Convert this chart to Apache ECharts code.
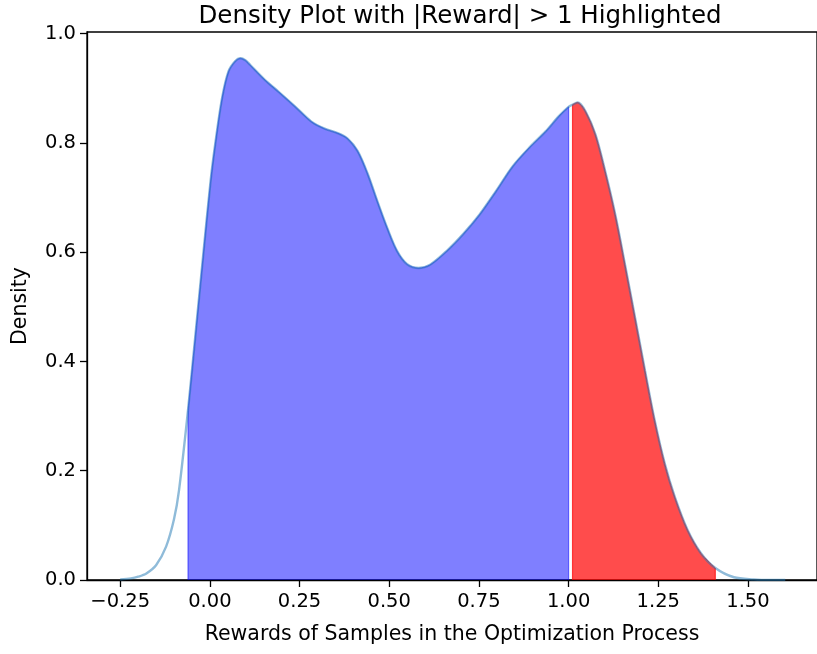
<!DOCTYPE html>
<html>
<head>
<meta charset="utf-8">
<script src="https://cdn.jsdelivr.net/npm/echarts@6/dist/echarts.min.js"></script>
<style>
html,body{margin:0;padding:0;background:#fff;}
#c{width:817px;height:654px;}
</style>
</head>
<body>
<div id="c"></div>
<script>
// Density curve
const kdeX = [-0.25, -0.22, -0.20, -0.177, -0.15, -0.122, -0.10, -0.086, -0.061, -0.04, -0.02, 0.002, 0.016, 0.034, 0.052, 0.071, 0.085, 0.10, 0.112, 0.154, 0.191, 0.237, 0.283, 0.320, 0.356, 0.384, 0.412, 0.439, 0.467, 0.494, 0.522, 0.550, 0.582, 0.614, 0.660, 0.706, 0.752, 0.798, 0.844, 0.890, 0.936, 0.973, 1.000, 1.011, 1.025, 1.047, 1.075, 1.102, 1.130, 1.157, 1.185, 1.213, 1.240, 1.268, 1.296, 1.332, 1.369, 1.409, 1.461, 1.516, 1.56, 1.604];
const kdeY = [0.001, 0.003, 0.006, 0.012, 0.027, 0.061, 0.111, 0.164, 0.310, 0.450, 0.585, 0.730, 0.803, 0.882, 0.931, 0.950, 0.955, 0.951, 0.943, 0.915, 0.894, 0.867, 0.839, 0.826, 0.818, 0.808, 0.785, 0.745, 0.693, 0.645, 0.602, 0.578, 0.571, 0.577, 0.602, 0.633, 0.669, 0.712, 0.757, 0.791, 0.821, 0.849, 0.866, 0.870, 0.874, 0.858, 0.815, 0.748, 0.669, 0.578, 0.481, 0.383, 0.292, 0.213, 0.152, 0.091, 0.049, 0.022, 0.005, 0.001, 0.000, 0.000];
// Highlight ranges (reward values)
const blueRange = [-0.061, 1.000];
const redRange = [1.011, 1.409];
// Tick labels
const xTicks = [-0.25, 0.00, 0.25, 0.50, 0.75, 1.00, 1.25, 1.50];
const yTicks = [0.0, 0.2, 0.4, 0.6, 0.8, 1.0];
const titleText = 'Density Plot with |Reward| > 1 Highlighted';
const xLabel = 'Rewards of Samples in the Optimization Process';
const yLabel = 'Density';

const kde = kdeX.map((x, i) => [x, kdeY[i]]);
const inRange = (r) => kde.filter(p => p[0] >= r[0] - 1e-9 && p[0] <= r[1] + 1e-9);
const blueData = inRange(blueRange);
const redData = inRange(redRange);
const edge = (p) => [[p[0], 0], [p[0], p[1]]];

const FONT = 'DejaVu Sans';
const SMOOTH = 0.3;
const chart = echarts.init(document.getElementById('c'), null, {renderer: 'canvas'});
const fmtX = v => (v < 0 ? '\u2212' : '') + Math.abs(v).toFixed(2);
const fmtY = v => v.toFixed(1);

const edgeSeries = (p, color) => ({
  type: 'line', data: edge(p), showSymbol: false, silent: true,
  lineStyle: {color: color, width: 1.2}, z: 3
});

chart.setOption({
  animation: false,
  backgroundColor: '#fff',
  title: {
    text: titleText, left: 455, top: -1, textAlign: 'center',
    textStyle: {fontFamily: FONT, fontSize: 24.5, fontWeight: 'normal', color: '#000'}
  },
  grid: {left: 87, top: 32, width: 736, height: 548, show: true, borderColor: '#000', borderWidth: 1.3, containLabel: false},
  xAxis: {
    type: 'value', min: -0.3425, max: 1.6925,
    name: xLabel, nameLocation: 'middle', nameGap: 44,
    nameTextStyle: {fontFamily: FONT, fontSize: 20.5, color: '#000'},
    splitLine: {show: false},
    axisLine: {show: true, onZero: false, lineStyle: {color: '#000', width: 1.3}},
    axisTick: {show: true, customValues: xTicks, length: 7, lineStyle: {color: '#000', width: 1.3}},
    axisLabel: {customValues: xTicks, formatter: fmtX, margin: 12, fontFamily: FONT, fontSize: 19.5, color: '#000'}
  },
  yAxis: {
    type: 'value', min: 0, max: 1.003,
    name: yLabel, nameLocation: 'middle', nameGap: 56, nameRotate: 90,
    nameTextStyle: {fontFamily: FONT, fontSize: 20.5, color: '#000'},
    splitLine: {show: false},
    axisLine: {show: true, onZero: false, lineStyle: {color: '#000', width: 1.3}},
    axisTick: {show: true, customValues: yTicks, length: 7, lineStyle: {color: '#000', width: 1.3}},
    axisLabel: {customValues: yTicks, formatter: fmtY, margin: 11, fontFamily: FONT, fontSize: 19.5, color: '#000'}
  },
  series: [
    {type: 'line', data: blueData, smooth: SMOOTH, showSymbol: false, silent: true,
     lineStyle: {color: 'rgba(0,0,255,0.5)', width: 1}, areaStyle: {color: 'rgba(0,0,255,0.5)', opacity: 1}, z: 2},
    {type: 'line', data: redData, smooth: SMOOTH, showSymbol: false, silent: true,
     lineStyle: {color: 'rgba(255,0,0,0.7)', width: 1}, areaStyle: {color: 'rgba(255,0,0,0.7)', opacity: 1}, z: 2},
    edgeSeries(blueData[0], 'rgba(0,0,255,0.5)'),
    edgeSeries(blueData[blueData.length - 1], 'rgba(0,0,255,0.5)'),
    edgeSeries(redData[0], 'rgba(255,0,0,0.7)'),
    edgeSeries(redData[redData.length - 1], 'rgba(255,0,0,0.7)'),
    {type: 'line', data: kde, smooth: SMOOTH, showSymbol: false, silent: true,
     lineStyle: {color: 'rgba(31,119,180,0.5)', width: 2.4}, z: 4}
  ]
});
</script>
</body>
</html>
